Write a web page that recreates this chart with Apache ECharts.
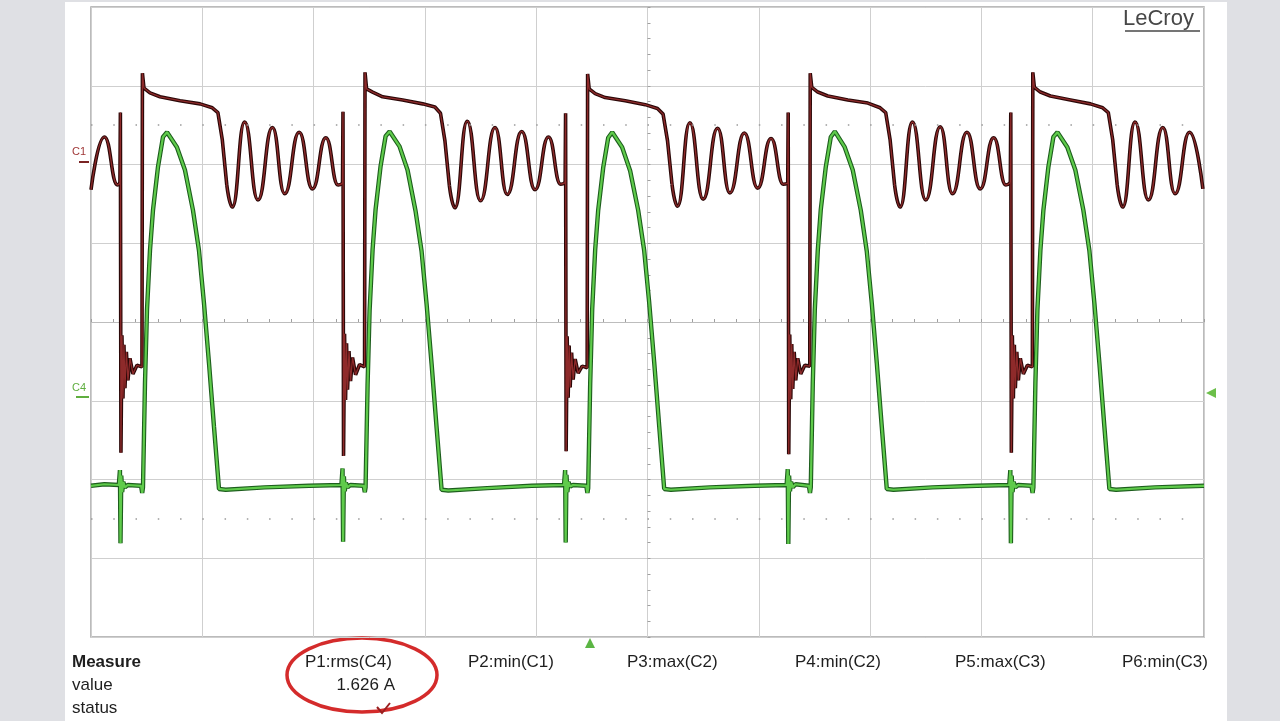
<!DOCTYPE html>
<html lang="en">
<head>
<meta charset="UTF-8">
<title>LeCroy capture</title>
<script src="https://cdn.jsdelivr.net/npm/echarts@6/dist/echarts.min.js"></script>
<style>
  html, body { margin: 0; padding: 0; background: #dfe0e4; }
  #chart { width: 1280px; height: 721px; }
</style>
</head>
<body>
<div id="chart"></div>
<script>
// time in divisions (0..10), amplitude in divisions (-4..4)
const c1Trace = [
  [0.00, 1.68], [0.12, 2.35], [0.24, 1.74],
  [0.26, 1.77], [0.264, 2.66], [0.269, -1.66], [0.278, -0.17], [0.287, -0.97], [0.296, -0.29], [0.305, -0.84], [0.318, -0.38], [0.332, -0.74], [0.35, -0.46], [0.377, -0.66], [0.413, -0.55], [0.458, -0.57],
  [0.462, 3.16], [0.476, 2.97], [0.53, 2.91], [0.62, 2.86], [0.80, 2.81], [0.98, 2.77], [1.09, 2.72], [1.14, 2.66], [1.18, 2.31], [1.22, 1.74],
  [1.27, 1.46], [1.38, 2.54], [1.50, 1.55], [1.63, 2.47], [1.74, 1.63], [1.87, 2.41], [1.99, 1.69], [2.11, 2.34], [2.22, 1.74],
  [2.26, 1.76], [2.264, 2.67], [2.269, -1.70], [2.278, -0.15], [2.287, -0.99], [2.296, -0.27], [2.305, -0.86], [2.318, -0.37], [2.332, -0.75], [2.35, -0.45], [2.377, -0.67], [2.413, -0.54], [2.458, -0.57],
  [2.462, 3.17], [2.476, 2.96], [2.53, 2.92], [2.62, 2.86], [2.80, 2.82], [2.98, 2.77], [3.09, 2.73], [3.14, 2.65], [3.18, 2.30], [3.22, 1.73],
  [3.27, 1.45], [3.38, 2.55], [3.50, 1.54], [3.63, 2.47], [3.74, 1.62], [3.87, 2.42], [3.99, 1.68], [4.11, 2.35], [4.22, 1.75],
  [4.26, 1.77], [4.264, 2.65], [4.269, -1.64], [4.278, -0.18], [4.287, -0.96], [4.296, -0.30], [4.305, -0.83], [4.318, -0.39], [4.332, -0.73], [4.35, -0.47], [4.377, -0.65], [4.413, -0.56], [4.458, -0.58],
  [4.462, 3.15], [4.476, 2.96], [4.53, 2.90], [4.62, 2.85], [4.80, 2.81], [4.98, 2.76], [5.09, 2.71], [5.14, 2.64], [5.18, 2.30], [5.22, 1.75],
  [5.27, 1.47], [5.38, 2.53], [5.50, 1.56], [5.63, 2.46], [5.74, 1.64], [5.87, 2.40], [5.99, 1.70], [6.11, 2.33], [6.22, 1.75],
  [6.26, 1.76], [6.264, 2.66], [6.269, -1.68], [6.278, -0.16], [6.287, -0.98], [6.296, -0.28], [6.305, -0.85], [6.318, -0.38], [6.332, -0.74], [6.35, -0.46], [6.377, -0.66], [6.413, -0.55], [6.458, -0.56],
  [6.462, 3.16], [6.476, 2.98], [6.53, 2.92], [6.62, 2.87], [6.80, 2.82], [6.98, 2.78], [7.09, 2.72], [7.14, 2.66], [7.18, 2.31], [7.22, 1.74],
  [7.27, 1.46], [7.38, 2.54], [7.50, 1.55], [7.63, 2.48], [7.74, 1.63], [7.87, 2.41], [7.99, 1.69], [8.11, 2.34], [8.22, 1.74],
  [8.26, 1.77], [8.264, 2.66], [8.269, -1.66], [8.278, -0.17], [8.287, -0.97], [8.296, -0.29], [8.305, -0.84], [8.318, -0.38], [8.332, -0.74], [8.35, -0.46], [8.377, -0.66], [8.413, -0.55], [8.458, -0.57],
  [8.462, 3.17], [8.476, 2.98], [8.53, 2.92], [8.62, 2.87], [8.80, 2.82], [8.98, 2.77], [9.09, 2.72], [9.14, 2.66], [9.18, 2.31], [9.22, 1.74],
  [9.27, 1.46], [9.38, 2.54], [9.50, 1.55], [9.63, 2.47], [9.74, 1.63], [9.87, 2.41], [9.99, 1.69]
];

// stretches of C1 that ring as a sine and get drawn smoothed
const c1SineWindows = [[0, 0.26], [1.22, 2.26], [3.22, 4.26], [5.22, 6.26], [7.22, 8.26], [9.22, 10]];

const c4Trace = [
  [0.00, -2.08], [0.12, -2.06], [0.25, -2.07],
  [0.26, -1.88], [0.265, -2.81], [0.272, -1.95], [0.28, -2.16], [0.29, -2.03], [0.305, -2.10], [0.33, -2.07], [0.45, -2.08], [0.46, -2.17], [0.467, -2.10],
  [0.485, -0.78], [0.503, 0.15], [0.53, 0.91], [0.557, 1.42], [0.602, 1.97], [0.647, 2.35], [0.683, 2.41], [0.772, 2.22], [0.844, 1.93], [0.916, 1.42], [0.97, 0.91], [1.015, 0.24], [1.06, -0.52], [1.105, -1.33], [1.15, -2.12],
  [1.21, -2.13], [1.56, -2.10], [1.96, -2.08], [2.25, -2.07],
  [2.26, -1.86], [2.265, -2.79], [2.272, -1.96], [2.28, -2.15], [2.29, -2.04], [2.305, -2.10], [2.33, -2.07], [2.45, -2.08], [2.46, -2.16], [2.467, -2.10],
  [2.485, -0.80], [2.503, 0.14], [2.53, 0.92], [2.557, 1.43], [2.602, 1.98], [2.647, 2.36], [2.683, 2.42], [2.772, 2.23], [2.844, 1.93], [2.916, 1.41], [2.97, 0.90], [3.015, 0.23], [3.06, -0.53], [3.105, -1.34], [3.15, -2.13],
  [3.21, -2.14], [3.56, -2.11], [3.96, -2.08], [4.25, -2.07],
  [4.26, -1.88], [4.265, -2.80], [4.272, -1.94], [4.28, -2.16], [4.29, -2.03], [4.305, -2.09], [4.33, -2.07], [4.45, -2.08], [4.46, -2.17], [4.467, -2.11],
  [4.485, -0.79], [4.503, 0.16], [4.53, 0.92], [4.557, 1.42], [4.602, 1.96], [4.647, 2.34], [4.683, 2.41], [4.772, 2.22], [4.844, 1.92], [4.916, 1.42], [4.97, 0.91], [5.015, 0.25], [5.06, -0.51], [5.105, -1.32], [5.15, -2.12],
  [5.21, -2.13], [5.56, -2.10], [5.96, -2.08], [6.25, -2.07],
  [6.26, -1.87], [6.265, -2.82], [6.272, -1.95], [6.28, -2.15], [6.29, -2.03], [6.305, -2.10], [6.33, -2.06], [6.45, -2.08], [6.46, -2.17], [6.467, -2.10],
  [6.485, -0.78], [6.503, 0.15], [6.53, 0.91], [6.557, 1.43], [6.602, 1.97], [6.647, 2.35], [6.683, 2.42], [6.772, 2.22], [6.844, 1.93], [6.916, 1.42], [6.97, 0.90], [7.015, 0.24], [7.06, -0.52], [7.105, -1.33], [7.15, -2.12],
  [7.21, -2.13], [7.56, -2.10], [7.96, -2.08], [8.25, -2.07],
  [8.26, -1.88], [8.265, -2.81], [8.272, -1.95], [8.28, -2.16], [8.29, -2.03], [8.305, -2.10], [8.33, -2.07], [8.45, -2.08], [8.46, -2.17], [8.467, -2.10],
  [8.485, -0.78], [8.503, 0.15], [8.53, 0.91], [8.557, 1.42], [8.602, 1.97], [8.647, 2.35], [8.683, 2.41], [8.772, 2.22], [8.844, 1.93], [8.916, 1.42], [8.97, 0.91], [9.015, 0.24], [9.06, -0.52], [9.105, -1.33], [9.15, -2.12],
  [9.21, -2.13], [9.56, -2.10], [10.0, -2.08]
];

const dottedLevels = [2.5, -2.5];
const measureNames = ['P1:rms(C4)', 'P2:min(C1)', 'P3:max(C2)', 'P4:min(C2)', 'P5:max(C3)', 'P6:min(C3)'];
const measureValues = ['1.626 A', '', '', '', '', ''];
const rowLabels = ['Measure', 'value', 'status'];

const font = '"Liberation Sans", Arial, sans-serif';
const measureLeft = [305, 468, 627, 795, 955, 1122];

const graphics = [
  { type: 'rect', z: -10, silent: true, shape: { x: 65, y: 2, width: 1162, height: 719 }, style: { fill: '#ffffff' } },
  { type: 'text', left: 1123, top: 8, style: { text: 'LeCroy', font: '22px ' + font, fill: '#474747' } },
  { type: 'line', shape: { x1: 1125, y1: 31, x2: 1200, y2: 31 }, style: { stroke: '#474747', lineWidth: 1.5 } },
  { type: 'text', left: 72, top: 146, style: { text: 'C1', font: '11px ' + font, fill: '#a03838' } },
  { type: 'line', shape: { x1: 79, y1: 162, x2: 89, y2: 162 }, style: { stroke: '#7a2424', lineWidth: 2 } },
  { type: 'text', left: 72, top: 382, style: { text: 'C4', font: '11px ' + font, fill: '#5fae3f' } },
  { type: 'line', shape: { x1: 76, y1: 397, x2: 89, y2: 397 }, style: { stroke: '#5fae3f', lineWidth: 2 } },
  { type: 'polygon', shape: { points: [[1206, 393], [1216, 388], [1216, 398]] }, style: { fill: '#6cbf4a' } },
  { type: 'polygon', shape: { points: [[590, 638], [585, 648], [595, 648]] }, style: { fill: '#5bb544' } },
  { type: 'ellipse', shape: { cx: 362, cy: 675, rx: 75, ry: 37 }, style: { fill: 'none', stroke: '#d42b2b', lineWidth: 3.5 } },
  { type: 'polyline', shape: { points: [[377, 707], [382, 713], [390, 703]] }, style: { stroke: '#9a2020', lineWidth: 2, fill: 'none' } }
];

rowLabels.forEach((t, i) => {
  graphics.push({
    type: 'text', left: 72, top: 654 + i * 23,
    style: { text: t, font: (i === 0 ? 'bold ' : '') + '17px ' + font, fill: '#1e1e1e' }
  });
});
measureNames.forEach((t, i) => {
  graphics.push({ type: 'text', left: measureLeft[i], top: 654, style: { text: t, font: '17px ' + font, fill: '#1e1e1e' } });
  if (measureValues[i]) {
    graphics.push({ type: 'text', right: 1280 - 395, top: 677, style: { text: measureValues[i], font: '17px ' + font, fill: '#1e1e1e' } });
  }
});

// split C1 into the sine stretches (smoothed) and the rest (straight), gaps as null
const insideWindow = (x, open) => c1SineWindows.some(w => open ? (x > w[0] && x < w[1]) : (x >= w[0] && x <= w[1]));
const c1Sine = c1Trace.map(p => insideWindow(p[0], false) ? p : [p[0], null]);
const c1Edges = c1Trace.map(p => insideWindow(p[0], true) ? [p[0], null] : p);

const traceLine = (data, color, width, z, smooth) => ({
  type: 'line', data: data, symbol: 'none', z: z,
  smooth: smooth ? 0.5 : false, smoothMonotone: 'x', connectNulls: false,
  lineStyle: { color: color, width: width }
});

const c1Outer = traceLine(c1Edges, '#2b0808', 3.6, 3, false);
c1Outer.markLine = {
  silent: true, symbol: 'none', label: { show: false },
  lineStyle: { color: '#9a9a9a', width: 1.5, type: [1.5, 20.76] },
  data: dottedLevels.map(v => ({ yAxis: v }))
};

const chart = echarts.init(document.getElementById('chart'));
chart.setOption({
  animation: false,
  backgroundColor: '#dfe0e4',
  grid: { left: 91, right: 76, top: 7, bottom: 84, show: true, borderColor: '#a5a5a5', borderWidth: 1.5 },
  xAxis: {
    type: 'value', min: 0, max: 10, interval: 1,
    axisLabel: { show: false },
    axisLine: { show: true, onZero: true, lineStyle: { color: '#bdbdbd' } },
    axisTick: { show: true, inside: true, length: 3, lineStyle: { color: '#a0a0a0' } },
    minorTick: { show: true, splitNumber: 5, length: 3, lineStyle: { color: '#a0a0a0' } },
    splitLine: { show: true, lineStyle: { color: '#cfcfcf', width: 1 } }
  },
  yAxis: [{
    type: 'value', min: -4, max: 4, interval: 1,
    axisLabel: { show: false },
    axisLine: { show: false },
    axisTick: { show: false },
    splitLine: { show: true, lineStyle: { color: '#cfcfcf', width: 1 } }
  }, {
    type: 'value', min: -4, max: 4, interval: 1, position: 'left', offset: -556.5,
    axisLabel: { show: false },
    axisLine: { show: false, onZero: false },
    axisTick: { show: true, inside: true, length: 3, lineStyle: { color: '#a0a0a0' } },
    minorTick: { show: true, splitNumber: 5, length: 3, lineStyle: { color: '#a0a0a0' } },
    splitLine: { show: false }
  }],
  graphic: graphics,
  series: [
    c1Outer,
    traceLine(c1Sine, '#2b0808', 3.6, 3, true),
    traceLine(c1Edges, '#8e2a2a', 1.3, 4, false),
    traceLine(c1Sine, '#8e2a2a', 1.3, 4, true),
    traceLine(c4Trace, '#1d5e1d', 4.4, 5, false),
    traceLine(c4Trace, '#5fcb4b', 2.2, 6, false)
  ]
});
</script>
</body>
</html>
